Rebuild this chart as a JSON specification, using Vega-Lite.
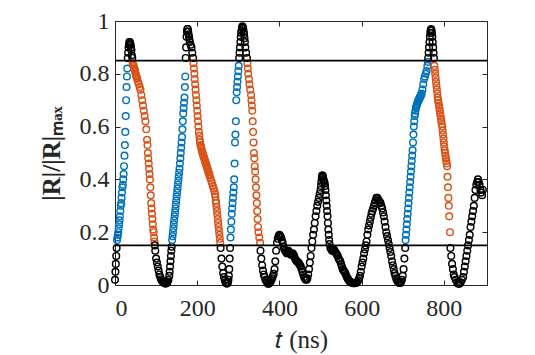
{
"$schema": "https://vega.github.io/schema/vega-lite/v6.json",
"width": 372, "height": 264,
"autosize": "none",
"padding": {"left": 115, "top": 21, "right": 48, "bottom": 70},
"background": "#ffffff",
"config": {
 "view": {"stroke": null},
 "axis": {"domainColor": "#262626", "domainWidth": 1, "tickColor": "#262626", "tickWidth": 1, "tickSize": -5, "grid": false,
  "labelFont": "Liberation Serif", "labelFontSize": 24, "labelColor": "#262626",
  "titleFont": "Liberation Serif", "titleFontSize": 25, "titleColor": "#262626", "titleFontWeight": "normal"}
},
"datasets": {
"lines": [{"h": 0.85}, {"h": 0.15}],
"pts": [
{"t":0,"r":0.02,"c":"k"},{"t":1,"r":0.05,"c":"k"},{"t":2,"r":0.08,"c":"k"},{"t":3,"r":0.11,"c":"k"},{"t":4,"r":0.14,"c":"k"},
{"t":5,"r":0.17,"c":"b"},{"t":6,"r":0.18,"c":"b"},{"t":7,"r":0.19,"c":"b"},{"t":8,"r":0.2,"c":"b"},{"t":9,"r":0.215,"c":"b"},{"t":10,"r":0.23,"c":"b"},{"t":11,"r":0.245,"c":"b"},{"t":12,"r":0.26,"c":"b"},{"t":13,"r":0.28,"c":"b"},{"t":14,"r":0.3,"c":"b"},{"t":15,"r":0.31,"c":"b"},{"t":16,"r":0.33,"c":"b"},{"t":17,"r":0.35,"c":"b"},{"t":18,"r":0.37,"c":"b"},{"t":19,"r":0.38,"c":"b"},{"t":20,"r":0.4,"c":"b"},{"t":21,"r":0.42,"c":"b"},{"t":22,"r":0.45,"c":"b"},{"t":23,"r":0.49,"c":"b"},{"t":24,"r":0.53,"c":"b"},{"t":25,"r":0.58,"c":"b"},{"t":26,"r":0.64,"c":"b"},{"t":27,"r":0.7,"c":"b"},{"t":28,"r":0.75,"c":"b"},{"t":29,"r":0.79,"c":"b"},{"t":30,"r":0.82,"c":"b"},
{"t":31,"r":0.86,"c":"k"},{"t":32,"r":0.88,"c":"k"},{"t":33,"r":0.9,"c":"k"},{"t":34,"r":0.91,"c":"k"},{"t":35,"r":0.92,"c":"k"},{"t":36,"r":0.92,"c":"k"},{"t":37,"r":0.915,"c":"k"},{"t":38,"r":0.91,"c":"k"},{"t":39,"r":0.9,"c":"k"},{"t":40,"r":0.89,"c":"k"},{"t":41,"r":0.87,"c":"k"},{"t":42,"r":0.86,"c":"k"},
{"t":43,"r":0.84,"c":"o"},{"t":44,"r":0.835,"c":"o"},{"t":45,"r":0.83,"c":"o"},{"t":46,"r":0.825,"c":"o"},{"t":47,"r":0.82,"c":"o"},{"t":48,"r":0.815,"c":"o"},{"t":49,"r":0.81,"c":"o"},{"t":50,"r":0.8,"c":"o"},{"t":51,"r":0.795,"c":"o"},{"t":52,"r":0.79,"c":"o"},{"t":53,"r":0.785,"c":"o"},{"t":54,"r":0.78,"c":"o"},{"t":56,"r":0.77,"c":"o"},{"t":58,"r":0.76,"c":"o"},{"t":60,"r":0.75,"c":"o"},{"t":62,"r":0.74,"c":"o"},{"t":64,"r":0.72,"c":"o"},{"t":66,"r":0.7,"c":"o"},{"t":68,"r":0.68,"c":"o"},{"t":70,"r":0.66,"c":"o"},{"t":72,"r":0.64,"c":"o"},{"t":74,"r":0.62,"c":"o"},{"t":76,"r":0.59,"c":"o"},{"t":78,"r":0.55,"c":"o"},{"t":79,"r":0.53,"c":"o"},{"t":80,"r":0.5,"c":"o"},{"t":81,"r":0.48,"c":"o"},{"t":82,"r":0.46,"c":"o"},{"t":83,"r":0.44,"c":"o"},{"t":84,"r":0.42,"c":"o"},{"t":85,"r":0.4,"c":"o"},{"t":86,"r":0.37,"c":"o"},{"t":87,"r":0.34,"c":"o"},{"t":88,"r":0.31,"c":"o"},{"t":89,"r":0.29,"c":"o"},{"t":90,"r":0.27,"c":"o"},{"t":91,"r":0.25,"c":"o"},{"t":92,"r":0.23,"c":"o"},{"t":93,"r":0.21,"c":"o"},{"t":94,"r":0.2,"c":"o"},{"t":95,"r":0.18,"c":"o"},{"t":96,"r":0.165,"c":"o"},
{"t":97,"r":0.15,"c":"k"},{"t":98,"r":0.13,"c":"k"},{"t":100,"r":0.1,"c":"k"},{"t":102,"r":0.085,"c":"k"},{"t":104,"r":0.07,"c":"k"},{"t":106,"r":0.055,"c":"k"},{"t":108,"r":0.04,"c":"k"},{"t":110,"r":0.03,"c":"k"},{"t":112,"r":0.022,"c":"k"},{"t":114,"r":0.016,"c":"k"},{"t":116,"r":0.012,"c":"k"},{"t":118,"r":0.01,"c":"k"},{"t":120,"r":0.008,"c":"k"},{"t":122,"r":0.006,"c":"k"},{"t":124,"r":0.006,"c":"k"},{"t":126,"r":0.008,"c":"k"},{"t":128,"r":0.012,"c":"k"},{"t":130,"r":0.02,"c":"k"},{"t":132,"r":0.035,"c":"k"},{"t":133,"r":0.05,"c":"k"},{"t":134,"r":0.07,"c":"k"},{"t":135,"r":0.09,"c":"k"},{"t":136,"r":0.11,"c":"k"},{"t":137,"r":0.13,"c":"k"},{"t":138,"r":0.145,"c":"k"},
{"t":139,"r":0.17,"c":"b"},{"t":140,"r":0.185,"c":"b"},{"t":141,"r":0.2,"c":"b"},{"t":142,"r":0.215,"c":"b"},{"t":143,"r":0.23,"c":"b"},{"t":144,"r":0.245,"c":"b"},{"t":145,"r":0.26,"c":"b"},{"t":146,"r":0.275,"c":"b"},{"t":147,"r":0.29,"c":"b"},{"t":148,"r":0.305,"c":"b"},{"t":149,"r":0.32,"c":"b"},{"t":150,"r":0.335,"c":"b"},{"t":151,"r":0.35,"c":"b"},{"t":152,"r":0.365,"c":"b"},{"t":153,"r":0.38,"c":"b"},{"t":154,"r":0.395,"c":"b"},{"t":155,"r":0.41,"c":"b"},{"t":156,"r":0.425,"c":"b"},{"t":157,"r":0.44,"c":"b"},{"t":158,"r":0.46,"c":"b"},{"t":159,"r":0.48,"c":"b"},{"t":160,"r":0.5,"c":"b"},{"t":161,"r":0.52,"c":"b"},{"t":162,"r":0.54,"c":"b"},{"t":163,"r":0.56,"c":"b"},{"t":164,"r":0.59,"c":"b"},{"t":165,"r":0.62,"c":"b"},{"t":166,"r":0.65,"c":"b"},{"t":167,"r":0.67,"c":"b"},{"t":168,"r":0.69,"c":"b"},{"t":169,"r":0.71,"c":"b"},{"t":170,"r":0.75,"c":"b"},{"t":171,"r":0.79,"c":"b"},
{"t":172,"r":0.86,"c":"k"},{"t":173,"r":0.9,"c":"k"},{"t":174,"r":0.94,"c":"k"},{"t":175,"r":0.96,"c":"k"},{"t":176,"r":0.97,"c":"k"},{"t":177,"r":0.97,"c":"k"},{"t":178,"r":0.96,"c":"k"},{"t":179,"r":0.95,"c":"k"},{"t":180,"r":0.94,"c":"k"},{"t":181,"r":0.93,"c":"k"},{"t":182,"r":0.92,"c":"k"},{"t":184,"r":0.91,"c":"k"},{"t":186,"r":0.9,"c":"k"},{"t":188,"r":0.88,"c":"k"},{"t":190,"r":0.86,"c":"k"},
{"t":191,"r":0.84,"c":"o"},{"t":192,"r":0.82,"c":"o"},{"t":193,"r":0.8,"c":"o"},{"t":194,"r":0.78,"c":"o"},{"t":195,"r":0.76,"c":"o"},{"t":196,"r":0.74,"c":"o"},{"t":197,"r":0.72,"c":"o"},{"t":198,"r":0.7,"c":"o"},{"t":199,"r":0.68,"c":"o"},{"t":200,"r":0.66,"c":"o"},{"t":201,"r":0.64,"c":"o"},{"t":202,"r":0.62,"c":"o"},{"t":203,"r":0.6,"c":"o"},{"t":204,"r":0.58,"c":"o"},{"t":205,"r":0.565,"c":"o"},{"t":206,"r":0.55,"c":"o"},{"t":207,"r":0.54,"c":"o"},{"t":208,"r":0.53,"c":"o"},{"t":209,"r":0.525,"c":"o"},{"t":210,"r":0.52,"c":"o"},{"t":211,"r":0.51,"c":"o"},{"t":212,"r":0.505,"c":"o"},{"t":213,"r":0.5,"c":"o"},{"t":214,"r":0.495,"c":"o"},{"t":215,"r":0.49,"c":"o"},{"t":216,"r":0.485,"c":"o"},{"t":217,"r":0.48,"c":"o"},{"t":218,"r":0.475,"c":"o"},{"t":219,"r":0.47,"c":"o"},{"t":220,"r":0.465,"c":"o"},{"t":221,"r":0.46,"c":"o"},{"t":222,"r":0.455,"c":"o"},{"t":223,"r":0.45,"c":"o"},{"t":224,"r":0.445,"c":"o"},{"t":225,"r":0.44,"c":"o"},{"t":226,"r":0.435,"c":"o"},{"t":227,"r":0.43,"c":"o"},{"t":228,"r":0.425,"c":"o"},{"t":229,"r":0.42,"c":"o"},{"t":230,"r":0.415,"c":"o"},{"t":232,"r":0.405,"c":"o"},{"t":234,"r":0.395,"c":"o"},{"t":236,"r":0.385,"c":"o"},{"t":238,"r":0.375,"c":"o"},{"t":240,"r":0.365,"c":"o"},{"t":242,"r":0.355,"c":"o"},{"t":243,"r":0.345,"c":"o"},{"t":244,"r":0.335,"c":"o"},{"t":245,"r":0.32,"c":"o"},{"t":246,"r":0.31,"c":"o"},{"t":247,"r":0.295,"c":"o"},{"t":248,"r":0.28,"c":"o"},{"t":249,"r":0.265,"c":"o"},{"t":250,"r":0.25,"c":"o"},{"t":251,"r":0.235,"c":"o"},{"t":252,"r":0.22,"c":"o"},{"t":253,"r":0.205,"c":"o"},{"t":254,"r":0.19,"c":"o"},{"t":255,"r":0.175,"c":"o"},{"t":256,"r":0.16,"c":"o"},
{"t":257,"r":0.14,"c":"k"},{"t":259,"r":0.1,"c":"k"},{"t":261,"r":0.07,"c":"k"},{"t":263,"r":0.045,"c":"k"},{"t":265,"r":0.03,"c":"k"},{"t":267,"r":0.018,"c":"k"},{"t":269,"r":0.01,"c":"k"},{"t":271,"r":0.006,"c":"k"},{"t":273,"r":0.006,"c":"k"},{"t":275,"r":0.01,"c":"k"},{"t":276,"r":0.02,"c":"k"},{"t":277,"r":0.035,"c":"k"},{"t":278,"r":0.06,"c":"k"},{"t":279,"r":0.1,"c":"k"},{"t":280,"r":0.14,"c":"k"},
{"t":281,"r":0.18,"c":"b"},{"t":282,"r":0.21,"c":"b"},{"t":283,"r":0.24,"c":"b"},{"t":284,"r":0.27,"c":"b"},{"t":285,"r":0.29,"c":"b"},{"t":286,"r":0.31,"c":"b"},{"t":287,"r":0.33,"c":"b"},{"t":288,"r":0.35,"c":"b"},{"t":289,"r":0.37,"c":"b"},{"t":290,"r":0.4,"c":"b"},{"t":291,"r":0.46,"c":"b"},{"t":292,"r":0.54,"c":"b"},{"t":293,"r":0.57,"c":"b"},{"t":294,"r":0.62,"c":"b"},{"t":295,"r":0.7,"c":"b"},{"t":296,"r":0.73,"c":"b"},{"t":297,"r":0.75,"c":"b"},{"t":298,"r":0.77,"c":"b"},{"t":299,"r":0.79,"c":"b"},{"t":300,"r":0.81,"c":"b"},{"t":301,"r":0.83,"c":"b"},
{"t":302,"r":0.86,"c":"k"},{"t":303,"r":0.88,"c":"k"},{"t":304,"r":0.9,"c":"k"},{"t":305,"r":0.92,"c":"k"},{"t":306,"r":0.94,"c":"k"},{"t":307,"r":0.955,"c":"k"},{"t":308,"r":0.965,"c":"k"},{"t":309,"r":0.975,"c":"k"},{"t":310,"r":0.98,"c":"k"},{"t":311,"r":0.975,"c":"k"},{"t":312,"r":0.97,"c":"k"},{"t":313,"r":0.96,"c":"k"},{"t":314,"r":0.95,"c":"k"},{"t":315,"r":0.935,"c":"k"},{"t":316,"r":0.92,"c":"k"},{"t":317,"r":0.9,"c":"k"},{"t":319,"r":0.88,"c":"k"},{"t":321,"r":0.86,"c":"k"},
{"t":322,"r":0.84,"c":"o"},{"t":323,"r":0.82,"c":"o"},{"t":324,"r":0.8,"c":"o"},{"t":326,"r":0.78,"c":"o"},{"t":327,"r":0.76,"c":"o"},{"t":329,"r":0.74,"c":"o"},{"t":331,"r":0.72,"c":"o"},{"t":332,"r":0.7,"c":"o"},{"t":333,"r":0.68,"c":"o"},{"t":334,"r":0.66,"c":"o"},{"t":335,"r":0.62,"c":"o"},{"t":336,"r":0.58,"c":"o"},{"t":337,"r":0.54,"c":"o"},{"t":338,"r":0.5,"c":"o"},{"t":339,"r":0.48,"c":"o"},{"t":340,"r":0.45,"c":"o"},{"t":341,"r":0.43,"c":"o"},{"t":342,"r":0.4,"c":"o"},{"t":343,"r":0.37,"c":"o"},{"t":344,"r":0.34,"c":"o"},{"t":345,"r":0.31,"c":"o"},{"t":346,"r":0.28,"c":"o"},{"t":347,"r":0.25,"c":"o"},{"t":348,"r":0.22,"c":"o"},{"t":349,"r":0.2,"c":"o"},{"t":351,"r":0.18,"c":"o"},{"t":353,"r":0.16,"c":"o"},
{"t":354,"r":0.13,"c":"k"},{"t":356,"r":0.1,"c":"k"},{"t":358,"r":0.075,"c":"k"},{"t":360,"r":0.055,"c":"k"},{"t":362,"r":0.04,"c":"k"},{"t":364,"r":0.03,"c":"k"},{"t":366,"r":0.02,"c":"k"},{"t":368,"r":0.015,"c":"k"},{"t":370,"r":0.01,"c":"k"},{"t":372,"r":0.005,"c":"k"},{"t":374,"r":0.005,"c":"k"},{"t":376,"r":0.008,"c":"k"},{"t":378,"r":0.012,"c":"k"},{"t":380,"r":0.018,"c":"k"},{"t":382,"r":0.025,"c":"k"},{"t":384,"r":0.033,"c":"k"},{"t":386,"r":0.042,"c":"k"},{"t":388,"r":0.06,"c":"k"},{"t":390,"r":0.09,"c":"k"},{"t":392,"r":0.13,"c":"k"},{"t":394,"r":0.16,"c":"k"},{"t":396,"r":0.175,"c":"k"},{"t":398,"r":0.185,"c":"k"},{"t":400,"r":0.19,"c":"k"},{"t":402,"r":0.185,"c":"k"},{"t":404,"r":0.18,"c":"k"},{"t":406,"r":0.17,"c":"k"},{"t":408,"r":0.16,"c":"k"},{"t":410,"r":0.145,"c":"k"},{"t":412,"r":0.135,"c":"k"},{"t":414,"r":0.13,"c":"k"},{"t":416,"r":0.125,"c":"k"},{"t":418,"r":0.12,"c":"k"},{"t":420,"r":0.125,"c":"k"},{"t":422,"r":0.13,"c":"k"},{"t":424,"r":0.125,"c":"k"},{"t":426,"r":0.12,"c":"k"},{"t":428,"r":0.115,"c":"k"},{"t":430,"r":0.115,"c":"k"},{"t":432,"r":0.12,"c":"k"},{"t":434,"r":0.115,"c":"k"},{"t":436,"r":0.11,"c":"k"},{"t":438,"r":0.1,"c":"k"},{"t":440,"r":0.095,"c":"k"},{"t":442,"r":0.09,"c":"k"},{"t":444,"r":0.088,"c":"k"},{"t":446,"r":0.085,"c":"k"},{"t":448,"r":0.08,"c":"k"},{"t":450,"r":0.075,"c":"k"},{"t":452,"r":0.07,"c":"k"},{"t":454,"r":0.06,"c":"k"},{"t":456,"r":0.05,"c":"k"},{"t":458,"r":0.04,"c":"k"},{"t":460,"r":0.03,"c":"k"},{"t":462,"r":0.025,"c":"k"},{"t":464,"r":0.02,"c":"k"},{"t":466,"r":0.02,"c":"k"},{"t":468,"r":0.025,"c":"k"},{"t":470,"r":0.04,"c":"k"},{"t":472,"r":0.06,"c":"k"},{"t":474,"r":0.085,"c":"k"},{"t":476,"r":0.11,"c":"k"},{"t":478,"r":0.14,"c":"k"},{"t":480,"r":0.165,"c":"k"},{"t":482,"r":0.19,"c":"k"},{"t":484,"r":0.21,"c":"k"},{"t":486,"r":0.235,"c":"k"},{"t":488,"r":0.26,"c":"k"},{"t":490,"r":0.28,"c":"k"},{"t":492,"r":0.3,"c":"k"},{"t":494,"r":0.315,"c":"k"},{"t":496,"r":0.33,"c":"k"},{"t":498,"r":0.345,"c":"k"},{"t":500,"r":0.36,"c":"k"},{"t":501,"r":0.375,"c":"k"},{"t":502,"r":0.39,"c":"k"},{"t":503,"r":0.405,"c":"k"},{"t":504,"r":0.415,"c":"k"},{"t":505,"r":0.415,"c":"k"},{"t":506,"r":0.41,"c":"k"},{"t":507,"r":0.4,"c":"k"},{"t":508,"r":0.395,"c":"k"},{"t":509,"r":0.39,"c":"k"},{"t":510,"r":0.385,"c":"k"},{"t":511,"r":0.375,"c":"k"},{"t":512,"r":0.36,"c":"k"},{"t":513,"r":0.34,"c":"k"},{"t":514,"r":0.32,"c":"k"},{"t":515,"r":0.3,"c":"k"},{"t":516,"r":0.28,"c":"k"},{"t":517,"r":0.26,"c":"k"},{"t":518,"r":0.235,"c":"k"},{"t":519,"r":0.21,"c":"k"},{"t":520,"r":0.19,"c":"k"},{"t":521,"r":0.17,"c":"k"},{"t":522,"r":0.155,"c":"k"},{"t":524,"r":0.14,"c":"k"},{"t":526,"r":0.135,"c":"k"},{"t":528,"r":0.13,"c":"k"},{"t":530,"r":0.13,"c":"k"},{"t":532,"r":0.135,"c":"k"},{"t":534,"r":0.13,"c":"k"},{"t":536,"r":0.125,"c":"k"},{"t":538,"r":0.12,"c":"k"},{"t":540,"r":0.115,"c":"k"},{"t":542,"r":0.11,"c":"k"},{"t":544,"r":0.1,"c":"k"},{"t":546,"r":0.095,"c":"k"},{"t":548,"r":0.09,"c":"k"},{"t":550,"r":0.08,"c":"k"},{"t":552,"r":0.07,"c":"k"},{"t":554,"r":0.06,"c":"k"},{"t":556,"r":0.055,"c":"k"},{"t":558,"r":0.05,"c":"k"},{"t":560,"r":0.045,"c":"k"},{"t":562,"r":0.038,"c":"k"},{"t":564,"r":0.03,"c":"k"},{"t":566,"r":0.025,"c":"k"},{"t":568,"r":0.02,"c":"k"},{"t":570,"r":0.015,"c":"k"},{"t":572,"r":0.012,"c":"k"},{"t":574,"r":0.01,"c":"k"},{"t":577,"r":0.008,"c":"k"},{"t":580,"r":0.007,"c":"k"},{"t":583,"r":0.007,"c":"k"},{"t":586,"r":0.008,"c":"k"},{"t":589,"r":0.01,"c":"k"},{"t":592,"r":0.018,"c":"k"},{"t":594,"r":0.025,"c":"k"},{"t":596,"r":0.035,"c":"k"},{"t":598,"r":0.05,"c":"k"},{"t":600,"r":0.07,"c":"k"},{"t":602,"r":0.085,"c":"k"},{"t":604,"r":0.1,"c":"k"},{"t":606,"r":0.12,"c":"k"},{"t":608,"r":0.135,"c":"k"},{"t":610,"r":0.15,"c":"k"},{"t":612,"r":0.165,"c":"k"},{"t":614,"r":0.19,"c":"k"},{"t":616,"r":0.21,"c":"k"},{"t":618,"r":0.225,"c":"k"},{"t":620,"r":0.24,"c":"k"},{"t":622,"r":0.255,"c":"k"},{"t":624,"r":0.27,"c":"k"},{"t":626,"r":0.28,"c":"k"},{"t":628,"r":0.29,"c":"k"},{"t":630,"r":0.3,"c":"k"},{"t":632,"r":0.31,"c":"k"},{"t":634,"r":0.32,"c":"k"},{"t":636,"r":0.33,"c":"k"},{"t":638,"r":0.33,"c":"k"},{"t":640,"r":0.325,"c":"k"},{"t":642,"r":0.32,"c":"k"},{"t":644,"r":0.315,"c":"k"},{"t":646,"r":0.31,"c":"k"},{"t":648,"r":0.3,"c":"k"},{"t":650,"r":0.29,"c":"k"},{"t":652,"r":0.275,"c":"k"},{"t":654,"r":0.26,"c":"k"},{"t":656,"r":0.24,"c":"k"},{"t":658,"r":0.22,"c":"k"},{"t":660,"r":0.2,"c":"k"},{"t":662,"r":0.185,"c":"k"},{"t":664,"r":0.17,"c":"k"},{"t":666,"r":0.155,"c":"k"},{"t":668,"r":0.14,"c":"k"},{"t":670,"r":0.125,"c":"k"},{"t":672,"r":0.11,"c":"k"},{"t":674,"r":0.09,"c":"k"},{"t":676,"r":0.075,"c":"k"},{"t":678,"r":0.06,"c":"k"},{"t":680,"r":0.045,"c":"k"},{"t":682,"r":0.035,"c":"k"},{"t":684,"r":0.025,"c":"k"},{"t":686,"r":0.018,"c":"k"},{"t":688,"r":0.012,"c":"k"},{"t":690,"r":0.01,"c":"k"},{"t":692,"r":0.008,"c":"k"},{"t":694,"r":0.008,"c":"k"},{"t":696,"r":0.012,"c":"k"},{"t":698,"r":0.02,"c":"k"},{"t":700,"r":0.035,"c":"k"},{"t":702,"r":0.06,"c":"k"},{"t":704,"r":0.1,"c":"k"},{"t":706,"r":0.14,"c":"k"},
{"t":707,"r":0.17,"c":"b"},{"t":708,"r":0.19,"c":"b"},{"t":709,"r":0.21,"c":"b"},{"t":710,"r":0.23,"c":"b"},{"t":711,"r":0.25,"c":"b"},{"t":712,"r":0.27,"c":"b"},{"t":713,"r":0.29,"c":"b"},{"t":714,"r":0.31,"c":"b"},{"t":715,"r":0.33,"c":"b"},{"t":716,"r":0.35,"c":"b"},{"t":717,"r":0.37,"c":"b"},{"t":718,"r":0.39,"c":"b"},{"t":719,"r":0.41,"c":"b"},{"t":720,"r":0.43,"c":"b"},{"t":721,"r":0.45,"c":"b"},{"t":722,"r":0.47,"c":"b"},{"t":723,"r":0.49,"c":"b"},{"t":724,"r":0.51,"c":"b"},{"t":725,"r":0.54,"c":"b"},{"t":726,"r":0.57,"c":"b"},{"t":727,"r":0.6,"c":"b"},{"t":728,"r":0.62,"c":"b"},{"t":729,"r":0.64,"c":"b"},{"t":730,"r":0.65,"c":"b"},{"t":731,"r":0.66,"c":"b"},{"t":732,"r":0.67,"c":"b"},{"t":733,"r":0.675,"c":"b"},{"t":734,"r":0.68,"c":"b"},{"t":735,"r":0.685,"c":"b"},{"t":736,"r":0.69,"c":"b"},{"t":737,"r":0.695,"c":"b"},{"t":738,"r":0.7,"c":"b"},{"t":739,"r":0.7,"c":"b"},{"t":740,"r":0.705,"c":"b"},{"t":741,"r":0.71,"c":"b"},{"t":742,"r":0.71,"c":"b"},{"t":743,"r":0.715,"c":"b"},{"t":744,"r":0.72,"c":"b"},{"t":745,"r":0.72,"c":"b"},{"t":746,"r":0.725,"c":"b"},{"t":748,"r":0.74,"c":"b"},{"t":750,"r":0.76,"c":"b"},{"t":752,"r":0.78,"c":"b"},{"t":754,"r":0.79,"c":"b"},{"t":756,"r":0.8,"c":"b"},{"t":758,"r":0.81,"c":"b"},{"t":760,"r":0.83,"c":"b"},{"t":761,"r":0.845,"c":"b"},
{"t":762,"r":0.86,"c":"k"},{"t":763,"r":0.88,"c":"k"},{"t":764,"r":0.9,"c":"k"},{"t":765,"r":0.92,"c":"k"},{"t":766,"r":0.94,"c":"k"},{"t":767,"r":0.955,"c":"k"},{"t":768,"r":0.965,"c":"k"},{"t":769,"r":0.97,"c":"k"},{"t":770,"r":0.965,"c":"k"},{"t":771,"r":0.955,"c":"k"},{"t":772,"r":0.94,"c":"k"},{"t":773,"r":0.92,"c":"k"},{"t":774,"r":0.9,"c":"k"},{"t":775,"r":0.88,"c":"k"},{"t":776,"r":0.86,"c":"k"},
{"t":777,"r":0.83,"c":"o"},{"t":778,"r":0.815,"c":"o"},{"t":779,"r":0.8,"c":"o"},{"t":780,"r":0.785,"c":"o"},{"t":781,"r":0.77,"c":"o"},{"t":782,"r":0.755,"c":"o"},{"t":783,"r":0.74,"c":"o"},{"t":784,"r":0.725,"c":"o"},{"t":785,"r":0.71,"c":"o"},{"t":786,"r":0.7,"c":"o"},{"t":787,"r":0.69,"c":"o"},{"t":788,"r":0.68,"c":"o"},{"t":789,"r":0.67,"c":"o"},{"t":790,"r":0.66,"c":"o"},{"t":791,"r":0.65,"c":"o"},{"t":792,"r":0.64,"c":"o"},{"t":793,"r":0.63,"c":"o"},{"t":794,"r":0.62,"c":"o"},{"t":795,"r":0.61,"c":"o"},{"t":796,"r":0.6,"c":"o"},{"t":797,"r":0.585,"c":"o"},{"t":798,"r":0.57,"c":"o"},{"t":799,"r":0.555,"c":"o"},{"t":800,"r":0.54,"c":"o"},{"t":801,"r":0.525,"c":"o"},{"t":802,"r":0.51,"c":"o"},{"t":803,"r":0.5,"c":"o"},{"t":804,"r":0.49,"c":"o"},{"t":805,"r":0.48,"c":"o"},{"t":806,"r":0.47,"c":"o"},{"t":807,"r":0.46,"c":"o"},{"t":808,"r":0.45,"c":"o"},{"t":809,"r":0.41,"c":"o"},{"t":810,"r":0.37,"c":"o"},{"t":811,"r":0.33,"c":"o"},{"t":812,"r":0.3,"c":"o"},{"t":813,"r":0.26,"c":"o"},{"t":815,"r":0.2,"c":"o"},
{"t":816,"r":0.14,"c":"k"},{"t":818,"r":0.11,"c":"k"},{"t":820,"r":0.08,"c":"k"},{"t":822,"r":0.06,"c":"k"},{"t":824,"r":0.04,"c":"k"},{"t":826,"r":0.03,"c":"k"},{"t":829,"r":0.02,"c":"k"},{"t":832,"r":0.01,"c":"k"},{"t":835,"r":0.005,"c":"k"},{"t":838,"r":0.005,"c":"k"},{"t":841,"r":0.01,"c":"k"},{"t":844,"r":0.02,"c":"k"},{"t":847,"r":0.03,"c":"k"},{"t":849,"r":0.05,"c":"k"},{"t":851,"r":0.07,"c":"k"},{"t":853,"r":0.09,"c":"k"},{"t":855,"r":0.11,"c":"k"},{"t":857,"r":0.13,"c":"k"},{"t":859,"r":0.15,"c":"k"},{"t":861,"r":0.17,"c":"k"},{"t":863,"r":0.19,"c":"k"},{"t":865,"r":0.22,"c":"k"},{"t":867,"r":0.24,"c":"k"},{"t":869,"r":0.26,"c":"k"},{"t":871,"r":0.28,"c":"k"},{"t":873,"r":0.3,"c":"k"},{"t":875,"r":0.33,"c":"k"},{"t":877,"r":0.36,"c":"k"},{"t":879,"r":0.38,"c":"k"},{"t":881,"r":0.39,"c":"k"},{"t":883,"r":0.4,"c":"k"},{"t":885,"r":0.39,"c":"k"},{"t":887,"r":0.38,"c":"k"},{"t":889,"r":0.36,"c":"k"},{"t":891,"r":0.35,"c":"k"},{"t":893,"r":0.34,"c":"k"},{"t":895,"r":0.36,"c":"k"}
]
},
"layer": [
 {"data": {"name": "pts"},
  "mark": {"type": "point", "filled": false, "size": 44, "strokeWidth": 1.45, "opacity": 1},
  "encoding": {
   "x": {"field": "t", "type": "quantitative", "scale": {"domain": [0, 905], "nice": false, "zero": false},
     "axis": {"orient": "bottom", "values": [0, 200, 400, 600, 800], "format": "d", "labelFont": "Liberation Serif", "labelFontSize": 24, "labelPadding": 16, "title": "𝑡 (ns)", "titleFont": "Liberation Serif", "titlePadding": 7}},
   "y": {"field": "r", "type": "quantitative", "scale": {"domain": [0, 1], "nice": false},
     "axis": {"orient": "left", "values": [0, 0.2, 0.4, 0.6, 0.8, 1], "format": "~g", "labelFont": "Liberation Serif", "labelFontSize": 24, "labelPadding": 11, "title": "|R|/|R|ₘₐₓ", "titleFont": "Liberation Serif", "titleFontWeight": "bold", "titlePadding": 15}},
   "color": {"field": "c", "type": "nominal", "scale": {"domain": ["k", "b", "o"], "range": ["#000000", "#0072BD", "#D95319"]}, "legend": null}
  }},
 {"data": {"name": "lines"},
  "mark": {"type": "rule", "color": "#000000", "strokeWidth": 1.6},
  "encoding": {"y": {"field": "h", "type": "quantitative", "scale": {"domain": [0, 1], "nice": false}, "axis": null}}},
 {"data": {"name": "lines"},
  "mark": {"type": "point", "opacity": 0},
  "encoding": {
   "x": {"field": "h", "type": "quantitative", "scale": {"domain": [0, 905], "nice": false, "zero": false},
     "axis": {"orient": "top", "values": [0, 200, 400, 600, 800], "labels": false, "title": null}},
   "y": {"field": "h", "type": "quantitative", "scale": {"domain": [0, 1], "nice": false},
     "axis": {"orient": "right", "values": [0, 0.2, 0.4, 0.6, 0.8, 1], "labels": false, "title": null}}
  }}
],
"resolve": {"axis": {"x": "independent", "y": "independent"}}
}
